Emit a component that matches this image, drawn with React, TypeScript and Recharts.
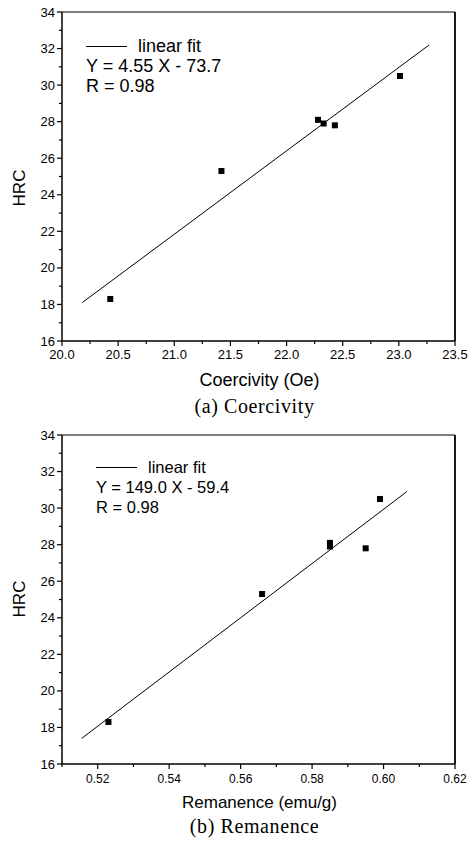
import { ComposedChart, Line, Scatter, XAxis, YAxis, ReferenceLine, Label } from 'recharts';

const SANS = '"Liberation Sans", Arial, sans-serif';
const SERIF = '"Liberation Serif", "Times New Roman", serif';

// measured samples (same HRC values in both panels)
const hrc = [18.3, 25.3, 28.1, 27.9, 27.8, 30.5];
const coercivity = [20.43, 21.42, 22.28, 22.33, 22.43, 23.01];
const remanence = [0.523, 0.566, 0.585, 0.585, 0.595, 0.599];

// linear fit end points
const coerFitX = [20.18, 23.27];
const coerFitY = [18.1, 32.2];
const remFitX = [0.5155, 0.6065];
const remFitY = [17.4, 30.9];

const hrcTicks = [16, 17, 18, 19, 20, 21, 22, 23, 24, 25, 26, 27, 28, 29, 30, 31, 32, 33, 34];
const hrcMajors = [16, 18, 20, 22, 24, 26, 28, 30, 32, 34];
const hrcLabels = ['16', '18', '20', '22', '24', '26', '28', '30', '32', '34'];

const coerTicks = [20, 20.25, 20.5, 20.75, 21, 21.25, 21.5, 21.75, 22, 22.25, 22.5, 22.75, 23, 23.25, 23.5];
const coerMajors = [20, 20.5, 21, 21.5, 22, 22.5, 23, 23.5];
const coerLabels = ['20.0', '20.5', '21.0', '21.5', '22.0', '22.5', '23.0', '23.5'];

const remTicks = [0.51, 0.52, 0.53, 0.54, 0.55, 0.56, 0.57, 0.58, 0.59, 0.6, 0.61, 0.62];
const remMajors = [0.52, 0.54, 0.56, 0.58, 0.6, 0.62];
const remLabels = ['0.52', '0.54', '0.56', '0.58', '0.60', '0.62'];

const toPoints = (xs: number[], ys: number[]) => xs.map((x, i) => ({ x, y: ys[i] }));

const findMajor = (majors: number[], v: number) => majors.findIndex((m) => Math.abs(m - v) < 1e-6);

const makeXTick = (majors: number[], labels: string[], fontSize: number, dy: number) => (props: any) => {
  const { x, y, payload } = props;
  const i = findMajor(majors, payload.value);
  return (
    <g>
      <line x1={x} x2={x} y1={y} y2={y + (i >= 0 ? 5 : 3)} stroke="#000" strokeWidth={1.2} />
      {i >= 0 && (
        <text x={x} y={y + dy} textAnchor="middle" fontSize={fontSize} fontFamily={SANS} fill="#000">
          {labels[i]}
        </text>
      )}
    </g>
  );
};

const YTick = (props: any) => {
  const { x, y, payload } = props;
  const i = findMajor(hrcMajors, payload.value);
  return (
    <g>
      <line x1={x} x2={x - (i >= 0 ? 5 : 3)} y1={y} y2={y} stroke="#000" strokeWidth={1.2} />
      {i >= 0 && (
        <text x={x - 7} y={y + 4.5} textAnchor="end" fontSize={13} fontFamily={SANS} fill="#000">
          {hrcLabels[i]}
        </text>
      )}
    </g>
  );
};

const Square = (props: any) => (
  <rect x={props.cx - 3} y={props.cy - 3} width={6} height={6} fill="#000" />
);

type PanelProps = {
  xs: number[];
  fitX: number[];
  fitY: number[];
  domain: [number, number];
  ticks: number[];
  majors: number[];
  labels: string[];
  tickFont: number;
  tickDy: number;
  top: number;
  axisTitle: string;
  titleFont: number;
  titleY: number;
  caption: string;
  captionY: number;
  hrcY: number;
  legendX: number;
  legendY: number;
  legendFont: number;
  equation: string;
};

const Panel = (p: PanelProps) => {
  const plotH = 329;
  const height = 420;
  return (
    <div style={{ position: 'absolute', left: 0, top: p.top }}>
      <ComposedChart width={468} height={height} margin={{ top: p.top === 0 ? 12 : 15, right: 13, bottom: 0, left: 0 }}>
        <XAxis
          type="number"
          dataKey="x"
          domain={p.domain}
          ticks={p.ticks}
          interval={0}
          allowDataOverflow
          tickSize={0}
          tickMargin={0}
          height={height - (p.top === 0 ? 12 : 15) - plotH}
          stroke="#000"
          strokeWidth={1.5}
          tick={makeXTick(p.majors, p.labels, p.tickFont, p.tickDy)}
        >
          <Label
            content={(lp: any) => {
              const vb = lp.viewBox;
              const cx = vb.x + vb.width / 2;
              return (
                <g>
                  <text x={cx + 1} y={vb.y + p.titleY} textAnchor="middle" fontSize={p.titleFont} fontFamily={SANS} fill="#000">
                    {p.axisTitle}
                  </text>
                  <text x={cx - 4} y={vb.y + p.captionY} textAnchor="middle" fontSize={20} fontFamily={SERIF} letterSpacing={0.6} fill="#000">
                    {p.caption}
                  </text>
                </g>
              );
            }}
          />
        </XAxis>
        <YAxis
          type="number"
          domain={[16, 34]}
          ticks={hrcTicks}
          interval={0}
          allowDataOverflow
          width={62}
          tickSize={0}
          tickMargin={0}
          stroke="#000"
          strokeWidth={1.5}
          tick={YTick}
        >
          <Label
            content={() => (
              <text
                x={25}
                y={p.hrcY}
                transform={`rotate(-90 25 ${p.hrcY})`}
                textAnchor="middle"
                fontSize={17}
                fontFamily={SANS}
                fill="#000"
              >
                HRC
              </text>
            )}
          />
        </YAxis>
        <ReferenceLine y={34} stroke="#000" strokeWidth={1} />
        <ReferenceLine x={p.domain[1]} stroke="#000" strokeWidth={1.8} />
        <Line
          data={toPoints(p.fitX, p.fitY)}
          dataKey="y"
          stroke="#000"
          strokeWidth={1}
          dot={false}
          isAnimationActive={false}
        />
        <Scatter data={toPoints(p.xs, hrc)} dataKey="y" shape={Square} isAnimationActive={false} />
        <g fontFamily={SANS} fontSize={p.legendFont} fill="#000">
          <line x1={p.legendX} x2={p.legendX + 41} y1={p.legendY - 5.5} y2={p.legendY - 5.5} stroke="#000" strokeWidth={1} />
          <text x={p.legendX + 52} y={p.legendY}>linear fit</text>
          <text x={p.legendX} y={p.legendY + 20}>{p.equation}</text>
          <text x={p.legendX} y={p.legendY + 40}>R = 0.98</text>
        </g>
      </ComposedChart>
    </div>
  );
};

export default function App() {
  return (
    <div style={{ position: 'absolute', left: 0, top: 0, width: 468, height: 841, background: '#fff' }}>
      <Panel
        xs={coercivity}
        fitX={coerFitX}
        fitY={coerFitY}
        domain={[20, 23.5]}
        ticks={coerTicks}
        majors={coerMajors}
        labels={coerLabels}
        tickFont={13}
        tickDy={18}
        top={0}
        axisTitle="Coercivity (Oe)"
        titleFont={18}
        titleY={45}
        caption="(a) Coercivity"
        captionY={72}
        hrcY={188}
        legendX={86}
        legendY={52}
        legendFont={18}
        equation="Y = 4.55 X - 73.7"
      />
      <Panel
        xs={remanence}
        fitX={remFitX}
        fitY={remFitY}
        domain={[0.51, 0.62]}
        ticks={remTicks}
        majors={remMajors}
        labels={remLabels}
        tickFont={12}
        tickDy={19}
        top={420}
        axisTitle="Remanence (emu/g)"
        titleFont={17}
        titleY={44}
        caption="(b) Remanence"
        captionY={69}
        hrcY={179}
        legendX={96}
        legendY={53}
        legendFont={16.5}
        equation="Y = 149.0 X - 59.4"
      />
    </div>
  );
}
